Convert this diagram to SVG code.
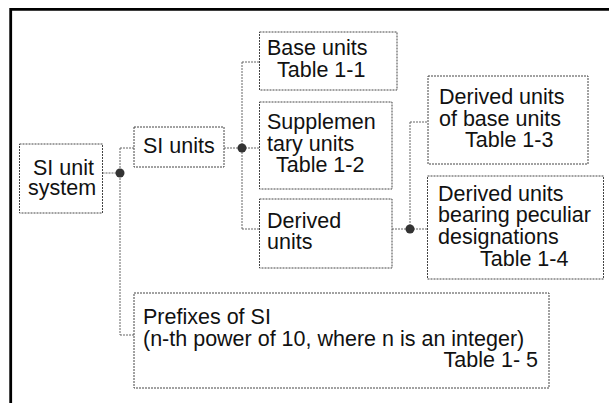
<svg xmlns="http://www.w3.org/2000/svg" width="609" height="403" viewBox="0 0 609 403">
<style>
.box{fill:#fff;stroke:#444;stroke-width:1;stroke-dasharray:2 1}
.con{fill:none;stroke:#666;stroke-width:1;stroke-dasharray:2 1}
.dot{fill:#333}
text{font-family:"Liberation Sans",Arial,sans-serif;font-size:21.5px;fill:#111}
</style>
<rect width="609" height="403" fill="#fff"/>
<path d="M10.7,403 V9.3 H609" fill="none" stroke="#000" stroke-width="2.8"/>
<g id="connectors">
<path class="con" d="M102.5,173 H120 M120,148 V335 M120,148 H134 M120,335 H134"/>
<path class="con" d="M224,148 H259 M242,62 V229 M242,62 H259 M242,229 H259"/>
<path class="con" d="M392,229 H428 M410,122 V229 M410,122 H428"/>
<circle class="dot" cx="120" cy="173" r="4.5"/>
<circle class="dot" cx="242" cy="148" r="4.5"/>
<circle class="dot" cx="410" cy="229" r="4.5"/>
</g>
<g id="si-unit-system">
<rect class="box" x="19.5" y="144" width="83" height="69"/>
<text x="33" y="175">SI unit</text>
<text x="28" y="194.5">system</text>
</g>
<g id="si-units">
<rect class="box" x="134" y="127" width="90" height="40"/>
<text x="143" y="153">SI units</text>
</g>
<g id="base-units">
<rect class="box" x="259.5" y="32" width="137.5" height="58"/>
<text x="267" y="55">Base units</text>
<text x="277" y="77">Table 1-1</text>
</g>
<g id="supplementary-units">
<rect class="box" x="259.5" y="102" width="132.5" height="87"/>
<text x="267" y="129">Supplemen</text>
<text x="267" y="150.5">tary units</text>
<text x="276" y="172">Table 1-2</text>
</g>
<g id="derived-units">
<rect class="box" x="259.5" y="199" width="132.5" height="69"/>
<text x="267" y="227.5">Derived</text>
<text x="267" y="249">units</text>
</g>
<g id="derived-base">
<rect class="box" x="428" y="76" width="160" height="88"/>
<text x="439" y="104">Derived units</text>
<text x="439" y="125.5">of base units</text>
<text x="465" y="147">Table 1-3</text>
</g>
<g id="derived-peculiar">
<rect class="box" x="427.5" y="176" width="176" height="103"/>
<text x="438" y="200.7">Derived units</text>
<text x="438" y="222.4">bearing peculiar</text>
<text x="438" y="244">designations</text>
<text x="480" y="265.7">Table 1-4</text>
</g>
<g id="prefixes">
<rect class="box" x="134" y="293" width="415" height="95"/>
<text x="143" y="324">Prefixes of SI</text>
<text x="143" y="346">(n-th power of 10, where n is an integer)</text>
<text x="538" y="366.5" text-anchor="end">Table 1- 5</text>
</g>
</svg>
